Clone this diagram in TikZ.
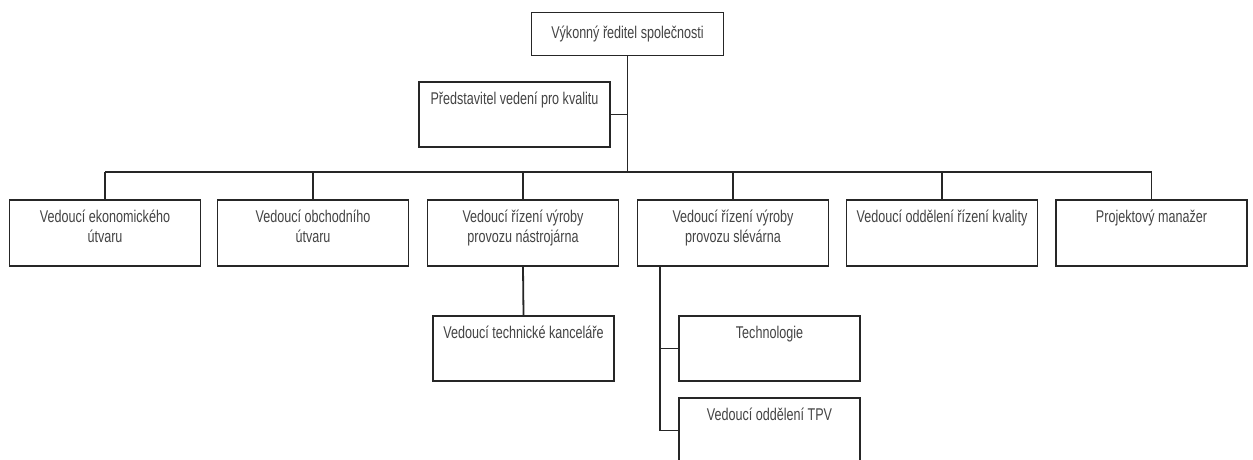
\documentclass[tikz,border=0pt]{standalone}
\usepackage{fontspec}
\setmainfont{Liberation Sans}[FakeStretch=0.74]
\definecolor{txtgray}{HTML}{444444}
\definecolor{linegray}{HTML}{262626}
\begin{document}
\begin{tikzpicture}[x=1pt,y=-1pt,
  box/.style={draw=linegray,line width=1.8pt,minimum width=191pt,minimum height=66pt,inner sep=0pt},
  sbox/.style={box,minimum width=181pt,minimum height=65pt},
  txt/.style={anchor=north,inner sep=0pt,yshift=-11pt,align=center,text=txtgray,
    font=\fontsize{17}{20}\selectfont},
  conn/.style={draw=linegray,line width=1.8pt}]
\useasboundingbox (0,0) rectangle (1253,460);
\clip (0,0) rectangle (1253,460);
\fill[white] (0,0) rectangle (1253,460);
% top
\node[box,minimum width=192pt,minimum height=43pt,font=\fontsize{17}{20}\selectfont,text=txtgray] (ceo) at (627.5,34) {Výkonný ředitel společnosti};
\node[box,minimum height=65pt,label={[txt]north:Představitel vedení pro kvalitu}] (rep) at (514.5,114.5) {};
% row 1
\node[box,label={[txt]north:Vedoucí ekonomického\\útvaru}] (b1) at (105,233) {};
\node[box,label={[txt]north:Vedoucí obchodního\\útvaru}] (b2) at (313,233) {};
\node[box,label={[txt]north:Vedoucí řízení výroby\\provozu nástrojárna}] (b3) at (523,233) {};
\node[box,label={[txt]north:Vedoucí řízení výroby\\provozu slévárna}] (b4) at (733,233) {};
\node[box,label={[txt]north:Vedoucí oddělení řízení kvality}] (b5) at (942,233) {};
\node[box,label={[txt]north:Projektový manažer}] (b6) at (1151.5,233) {};
% row 2
\node[sbox,label={[txt]north:Vedoucí technické kanceláře}] (tk) at (523.5,348.5) {};
\node[sbox,label={[txt]north:Technologie}] (tech) at (769.5,348.5) {};
\node[sbox,label={[txt]north:Vedoucí oddělení TPV}] (tpv) at (769.5,430.5) {};
% connectors
\coordinate (bus) at (627.5,172);
\coordinate (spine) at (660,266);
\draw[conn] (ceo.south) -- (bus);
\draw[conn] (rep.east) -- (rep.east -| ceo.south);
\draw[conn] (b1.north |- bus) -- (b6.north |- bus);
\foreach \b in {b1,b2,b3,b4,b5,b6} \draw[conn] (\b.north) -- (\b.north |- bus);
\draw[conn] (b3.south) -- (tk.north);
\draw[conn] (spine) -- (spine |- tpv.west) -- (tpv.west);
\draw[conn] (spine |- tech.west) -- (tech.west);
\end{tikzpicture}
\end{document}
